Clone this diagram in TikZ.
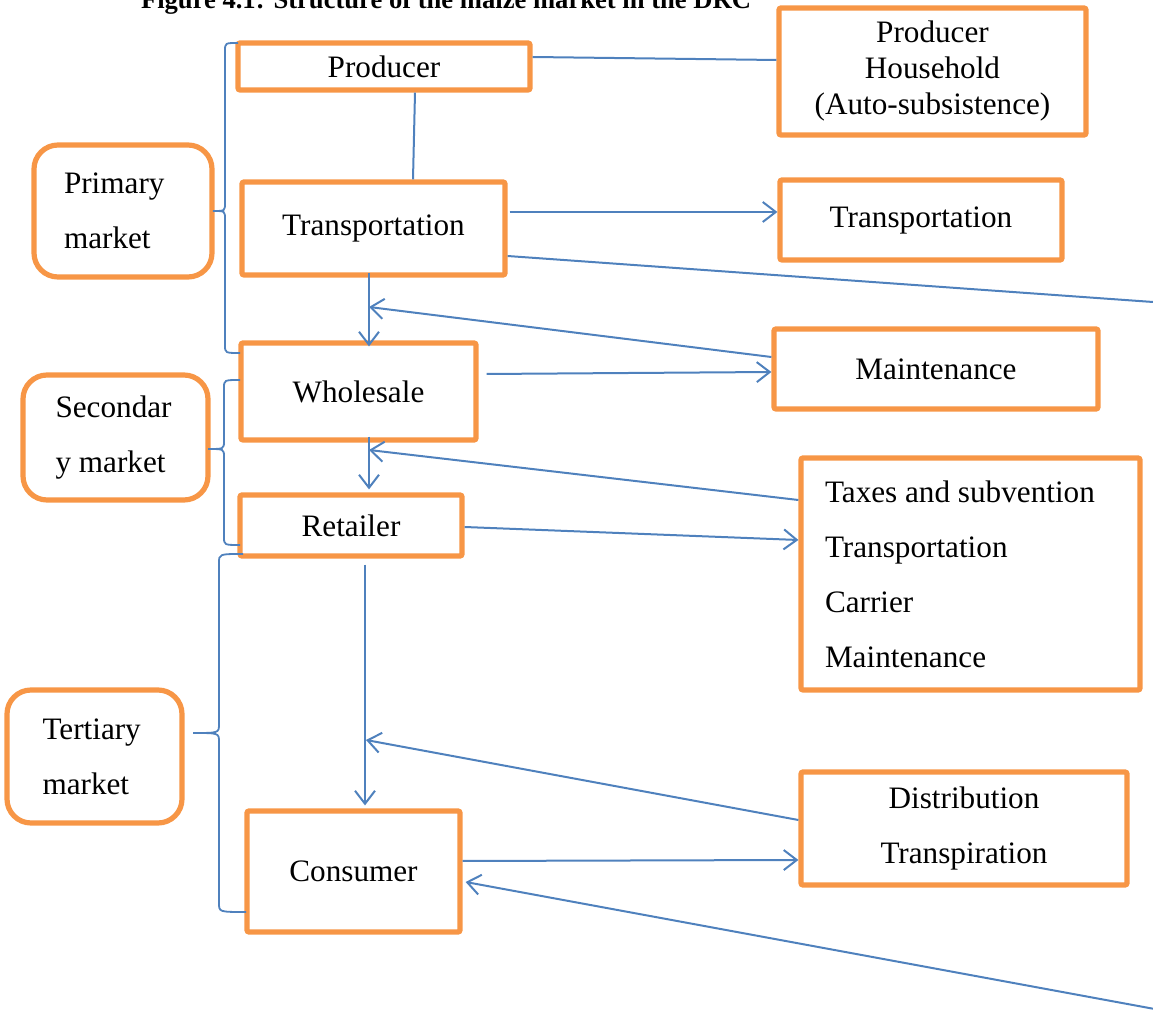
\documentclass[tikz,border=0pt]{standalone}
\usepackage{fontspec}
\setmainfont{Liberation Serif}
\usepackage{tikz}
\usetikzlibrary{arrows.meta}
\definecolor{boxorange}{RGB}{247,150,70}
\definecolor{lineblue}{RGB}{79,129,189}

\begin{document}
\begin{tikzpicture}[x=0.5pt,y=-0.5pt,
    box/.style={draw=boxorange, line width=2.6pt, rounded corners=1pt, fill=white,
        inner sep=0pt, align=center, font=\fontsize{15.6}{17.5}\selectfont},
    listbox/.style={box, align=flush left, font=\fontsize{15.6}{27.5}\selectfont},
    mkt/.style={box, rounded corners=12pt, align=flush left, font=\fontsize{15.6}{27.5}\selectfont},
    conn/.style={draw=lineblue, line width=1pt},
    arr/.style={conn, -{Straight Barb[length=6.5pt,width=10pt]}},
    brc/.style={draw=lineblue, line width=0.9pt}]
    \useasboundingbox (0,0) rectangle (1153,1010);

    \node[font=\bfseries\fontsize{13.3}{15}\selectfont, anchor=base] (ttl) at (446,9)
        {Figure 4.1: Structure of the maize market in the DRC};

    % chain of the market
    \node[box, minimum width=146pt, minimum height=23.5pt] (prod) at (384,66.5) {Producer};
    \node[box, minimum width=131.5pt, minimum height=46.5pt] (trL) at (373.5,228.5) {Transportation};
    \node[box, minimum width=117.5pt, minimum height=48.5pt] (whs) at (358.5,391.5) {Wholesale};
    \node[box, minimum width=111pt, minimum height=30.5pt] (ret) at (351,525.5) {Retailer};
    \node[box, minimum width=106.5pt, minimum height=60.5pt] (con) at (353.5,871.5) {Consumer};

    % right side
    \node[box, minimum width=153.5pt, minimum height=63.5pt, font=\fontsize{15.6}{18}\selectfont] (hh) at (932.5,71.5)
        {Producer\\Household\\(Auto-subsistence)};
    \node[box, minimum width=141pt, minimum height=40pt] (trR) at (921,220) {Transportation};
    \node[box, minimum width=162pt, minimum height=40pt] (mnt) at (936,369) {Maintenance};
    \node[listbox, minimum height=116pt, text width=145.5pt, inner xsep=12pt] (tax) at (970.5,574)
        {Taxes and subvention\\Transportation\\Carrier\\Maintenance};
    \node[box, minimum width=163pt, minimum height=56.5pt, font=\fontsize{15.6}{27.5}\selectfont] (dist) at (964,828.5)
        {Distribution\\Transpiration};

    % left side
    \node[mkt, minimum height=66pt, text width=59pt, inner xsep=15pt] (prim) at (123,211) {Primary\\market};
    \node[mkt, minimum height=62.5pt, text width=60pt, inner xsep=16.25pt] (sec) at (115.5,437.5) {Secondar\\y market};
    \node[mkt, minimum height=66.5pt, text width=52pt, inner xsep=17.75pt] (ter) at (94.5,756.5) {Tertiary\\market};

    \coordinate (j1) at (369,307);
    \coordinate (j2) at (369,450);
    \coordinate (j3) at (366,740);
    \coordinate (offA) at (1160,302.5);
    \coordinate (offB) at (1160,1010);

    \draw[conn] ([yshift=4.75pt]prod.east) -- ([yshift=5.75pt]hh.west);
    \draw[conn] ([xshift=15.5pt]prod.south) -- ([xshift=19.75pt]trL.north);
    \draw[arr] ([xshift=1pt,yshift=8.25pt]trL.east) -- ([yshift=4pt]trR.west);
    \draw[conn] ([yshift=-13.75pt]trL.east) -- (offA);
    \draw[arr] ([xshift=-2.25pt,yshift=2.5pt]trL.south) -- ([xshift=5.25pt,yshift=-3pt]whs.north);
    \draw[arr] ([yshift=6pt]mnt.west) -- (j1);
    \draw[arr] ([xshift=4pt,yshift=8.75pt]whs.east) -- ([yshift=-1.5pt]mnt.west);
    \draw[arr] ([xshift=5.25pt,yshift=3pt]whs.south) -- ([xshift=9pt,yshift=1.5pt]ret.north);
    \draw[arr] ([yshift=37pt]tax.west) -- (j2);
    \draw[arr] ([yshift=-0.75pt]ret.east) -- ([yshift=17pt]tax.west);
    \draw[arr] ([xshift=7pt,yshift=-3pt]ret.south) -- ([xshift=5.75pt,yshift=1.5pt]con.north);
    \draw[arr] ([yshift=4.25pt]dist.west) -- (j3);
    \draw[arr] ([yshift=5.25pt]con.east) -- ([yshift=-15.75pt]dist.west);
    \draw[arr] (offB) -- ([xshift=1.5pt,yshift=-5.25pt]con.east);

    % braces
    \draw[brc] (238,43) .. controls (225,43) .. (225,51) -- (225,203)
        .. controls (225,211) .. (213,211) .. controls (225,211) .. (225,219)
        -- (225,345) .. controls (225,353) .. (240,353);
    \draw[brc] (240,380) .. controls (224,380) .. (224,388) -- (224,441)
        .. controls (224,449) .. (208,449) .. controls (224,449) .. (224,457)
        -- (224,537) .. controls (224,545) .. (240,545);
    \draw[brc] (243,554) .. controls (219,554) .. (219,563) -- (219,724)
        .. controls (219,733) .. (193,733) .. controls (219,733) .. (219,742)
        -- (219,903) .. controls (219,912) .. (246,912);
\end{tikzpicture}
\end{document}
